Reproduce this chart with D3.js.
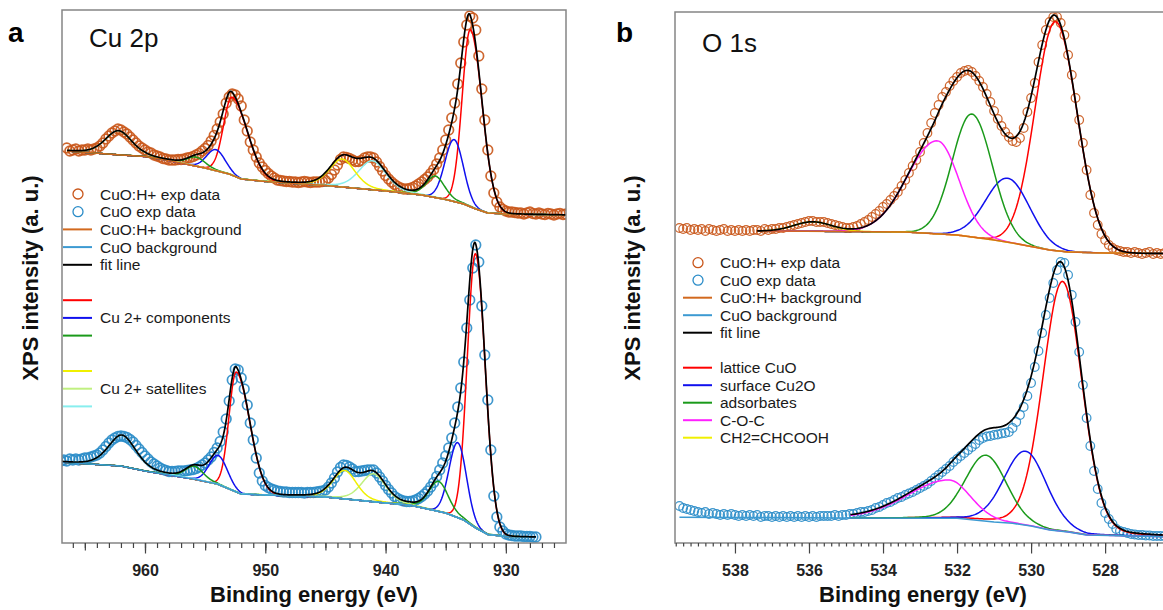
<!DOCTYPE html>
<html>
<head>
<meta charset="utf-8">
<script src="https://cdn.jsdelivr.net/npm/d3@7"></script>
<style>
  body { margin: 0; background: #fff; }
  svg { display: block; }
  text { font-family: "Liberation Sans", Arial, sans-serif; }
</style>
</head>
<body>
<div id="chart"></div>
<script>
// ---- Cu 2p exp data (binding energy grid: start, step 0.25 eV, going down) ----
const cu2pStep = 0.25;
const cuohCu2pStart = 966.5;
const cuohCu2p = [
  3950, 3920, 3930, 3940, 3920, 3930, 3930, 3940,
  3930, 3940, 3950, 3970, 4000, 4040, 4070, 4100,
  4120, 4140, 4130, 4110, 4090, 4060, 4030, 4000,
  3970, 3950, 3930, 3910, 3900, 3880, 3870, 3860,
  3845, 3840, 3830, 3830, 3830, 3835, 3835, 3840,
  3850, 3855, 3865, 3880, 3895, 3920, 3945, 3975,
  4020, 4075, 4140, 4210, 4290, 4400, 4460, 4490,
  4480, 4440, 4370, 4230, 4120, 4010, 3930, 3860,
  3800, 3760, 3725, 3695, 3670, 3650, 3630, 3625,
  3620, 3615, 3615, 3610, 3610, 3605, 3610, 3615,
  3610, 3605, 3610, 3610, 3610, 3615, 3625, 3650,
  3685, 3730, 3780, 3835, 3860, 3855, 3845, 3830,
  3815, 3815, 3825, 3850, 3860, 3860, 3850, 3810,
  3765, 3720, 3675, 3640, 3610, 3585, 3565, 3550,
  3540, 3540, 3545, 3555, 3570, 3590, 3610, 3635,
  3660, 3695, 3735, 3790, 3850, 3930, 4030, 4130,
  4250, 4400, 4590, 4800, 5010, 5180, 5270, 5250,
  5130, 4870, 4540, 4230, 3930, 3670, 3500, 3410,
  3360, 3335, 3320, 3310, 3310, 3305, 3300, 3300,
  3290, 3300, 3310, 3295, 3290, 3300, 3290, 3285,
  3295, 3290, 3280, 3290, 3295, 3285, 3290
];
const cuoCu2pStart = 967.0;
const cuoCu2p = [
  820, 830, 820, 840, 830, 840, 830, 840,
  850, 850, 860, 870, 880, 900, 930, 965,
  1000, 1030, 1050, 1065, 1070, 1065, 1055, 1035,
  1010, 975, 940, 905, 870, 840, 810, 790,
  770, 750, 735, 725, 715, 715, 715, 720,
  720, 720, 725, 730, 735, 745, 760, 780,
  800, 830, 860, 905, 950, 1015, 1110, 1240,
  1420, 1630, 1740, 1730, 1650, 1540, 1380, 1200,
  1030, 850, 700, 620, 575, 555, 540, 530,
  520, 515, 510, 510, 505, 505, 505, 505,
  505, 500, 505, 505, 505, 510, 515, 520,
  530, 560, 600, 650, 710, 755, 780, 775,
  760, 740, 715, 715, 720, 725, 730, 730,
  730, 700, 660, 620, 575, 535, 500, 465,
  445, 430, 420, 415, 415, 420, 430, 445,
  465, 490, 520, 560, 605, 665, 730, 800,
  870, 950, 1050, 1200, 1360, 1550, 1810, 2150,
  2430, 2750, 2980, 2810, 2370, 1880, 1430, 930,
  470, 260, 160, 120, 90, 80, 75, 70,
  70, 70, 65, 65, 65, 60, 60
];

// ---- O 1s exp data (start 539.5 eV, step 0.1 eV) ----
const o1sStart = 539.5, o1sStep = 0.1;
const cuohO1s = [
  3150, 3140, 3150, 3130, 3140, 3130, 3140, 3120, 3140, 3130,
  3120, 3130, 3140, 3120, 3130, 3120, 3130, 3120, 3130, 3120,
  3130, 3130, 3120, 3140, 3130, 3140, 3140, 3150, 3150, 3160,
  3170, 3180, 3190, 3200, 3210, 3220, 3220, 3210, 3210, 3210,
  3200, 3190, 3180, 3170, 3160, 3150, 3150, 3160, 3170, 3190,
  3210, 3230, 3260, 3290, 3320, 3360, 3390, 3430, 3470, 3510,
  3570, 3630, 3700, 3770, 3830, 3910, 4000, 4100, 4200, 4300,
  4380, 4460, 4510, 4570, 4620, 4660, 4700, 4720, 4730, 4710,
  4670, 4620, 4560, 4490, 4410, 4320, 4240, 4170, 4110, 4060,
  4020, 4010, 4050, 4150, 4310, 4450, 4600, 4810, 4980, 5130,
  5210, 5260, 5260, 5200, 5080, 4880, 4680, 4450, 4230, 4000,
  3730, 3480, 3300, 3180, 3090, 3030, 2980, 2950, 2930, 2920,
  2910, 2910, 2900, 2910, 2900, 2890, 2900, 2910, 2890, 2900,
  2890, 2900
];
const cuoO1s = [
  370, 350, 340, 330, 320, 310, 300, 310, 290, 300,
  290, 280, 290, 280, 290, 280, 270, 280, 270, 280,
  270, 280, 260, 270, 270, 260, 270, 260, 270, 260,
  270, 260, 270, 260, 270, 260, 270, 260, 270, 270,
  270, 270, 280, 270, 280, 280, 290, 290, 300, 310,
  310, 320, 330, 350, 360, 380, 400, 410, 430, 450,
  460, 480, 495, 510, 530, 550, 570, 590, 620, 650,
  680, 710, 740, 770, 810, 840, 870, 900, 930, 960,
  990, 1030, 1050, 1065, 1070, 1080, 1085, 1095, 1100, 1110,
  1150, 1210, 1280, 1360, 1470, 1600, 1760, 1920, 2100, 2280,
  2450, 2600, 2730, 2810, 2800, 2680, 2480, 2210, 1910, 1580,
  1250, 970, 720, 540, 400, 300, 240, 190, 140, 120,
  110, 100, 90, 85, 80, 80, 75, 75, 70, 70,
  70, 70
];

// ---- backgrounds, [binding energy, intensity] ----
const cuohCu2pBg = [[966.5, 3920], [962, 3880], [960, 3865], [958, 3825], [955, 3750], [953, 3690],
  [952, 3640], [950, 3615], [945, 3575], [940, 3520], [937, 3480], [935, 3435], [933.5, 3390],
  [932.5, 3340], [931.5, 3300], [930, 3290], [925, 3280]];
const cuoCu2pBg = [[967, 810], [966, 800], [962, 770], [960, 720], [956, 640], [954, 590], [952, 490],
  [950, 480], [945, 460], [940, 400], [938, 380], [935, 300], [933.5, 230], [932.5, 150],
  [931.5, 85], [930, 65], [927.5, 58]];
const cuohO1sBg = [[537.4, 3120], [535, 3115], [533.4, 3110], [532, 3080], [531, 3030], [530.5, 3000],
  [529.5, 2930], [529, 2910], [528, 2900], [526.4, 2895]];
const cuoO1sBg = [[539.5, 257], [535, 250], [532, 247], [531, 210], [530.5, 197], [530, 170],
  [529.5, 130], [529, 110], [528.5, 80], [526.4, 63]];

// ---- fitted components: centre (eV), height, FWHM high-BE side, FWHM low-BE side, Lorentz share ----
const cuohCu2pPeaks = [
  { id: "p1", e: 932.95, h: 1770, wL: 1.6, wR: 2.3, gl: 0 },
  { id: "p2", e: 934.3, h: 620, wL: 1.8, wR: 1.8, gl: 0 },
  { id: "p3", e: 935.85, h: 215, wL: 1.8, wR: 1.8, gl: 0.3 },
  { id: "s3", e: 941.1, h: 290, wL: 2.7, wR: 2.7, gl: 0.3 },
  { id: "s1", e: 943.6, h: 280, wL: 2.5, wR: 2.5, gl: 0.3 },
  { id: "p1", e: 952.75, h: 780, wL: 1.7, wR: 3.0, gl: 0 },
  { id: "p2", e: 954.1, h: 210, wL: 1.8, wR: 1.8, gl: 0 },
  { id: "p3", e: 955.75, h: 90, wL: 1.8, wR: 1.8, gl: 0.3 },
  { id: "s2", e: 962.2, h: 240, wL: 2.6, wR: 2.6, gl: 0.3 }
];
const cuoCu2pPeaks = [
  { id: "p1", e: 932.52, h: 2740, wL: 1.6, wR: 1.9, gl: 0 },
  { id: "p2", e: 934.0, h: 750, wL: 1.7, wR: 1.7, gl: 0 },
  { id: "p3", e: 935.6, h: 300, wL: 1.9, wR: 1.9, gl: 0.3 },
  { id: "s2", e: 941.0, h: 280, wL: 2.4, wR: 2.4, gl: 0.3 },
  { id: "s1", e: 943.4, h: 285, wL: 2.3, wR: 2.3, gl: 0.3 },
  { id: "p1", e: 952.4, h: 1200, wL: 1.45, wR: 2.6, gl: 0 },
  { id: "p2", e: 953.9, h: 290, wL: 1.8, wR: 1.8, gl: 0 },
  { id: "p3", e: 955.9, h: 130, wL: 1.8, wR: 1.8, gl: 0.3 },
  { id: "s3", e: 961.9, h: 310, wL: 2.7, wR: 2.7, gl: 0.3 }
];
const cuohO1sPeaks = [
  { id: "lattice", e: 529.34, h: 2290, wL: 1.3, wR: 1.38, gl: 0 },
  { id: "surface", e: 530.63, h: 640, wL: 1.4, wR: 1.4, gl: 0 },
  { id: "adsorbates", e: 531.6, h: 1230, wL: 1.24, wR: 1.3, gl: 0 },
  { id: "coc", e: 532.53, h: 930, wL: 1.9, wR: 1.35, gl: 0 },
  { id: "acrylic", e: 535.9, h: 95, wL: 1.2, wR: 1.2, gl: 0 }
];
const cuoO1sPeaks = [
  { id: "lattice", e: 529.15, h: 2500, wL: 1.25, wR: 1.25, gl: 0.1 },
  { id: "surface", e: 530.15, h: 740, wL: 1.36, wR: 1.36, gl: 0.1 },
  { id: "adsorbates", e: 531.22, h: 660, wL: 1.3, wR: 1.3, gl: 0.1 },
  { id: "coc", e: 532.23, h: 383, wL: 2.6, wR: 1.4, gl: 0.1 }
];

// tick labels
const cu2pTickLabels = [960, 950, 940, 930];
const o1sTickLabels = [538, 536, 534, 532, 530, 528];

// legend texts
const cuLegend = [
  ["dot", "cuoh", "CuO:H+ exp data"], ["dot", "cuo", "CuO exp data"],
  ["line", "bgCuoh", "CuO:H+ background"], ["line", "bgCuo", "CuO background"], ["line", "fit", "fit line"],
  null,
  ["line", "p1", ""], ["line", "p2", "Cu 2+ components"], ["line", "p3", ""],
  null,
  ["line", "s1", ""], ["line", "s2", "Cu 2+ satellites"], ["line", "s3", ""]
];
const oLegend = [
  ["dot", "cuoh", "CuO:H+ exp data"], ["dot", "cuo", "CuO exp data"],
  ["line", "bgCuoh", "CuO:H+ background"], ["line", "bgCuo", "CuO background"], ["line", "fit", "fit line"],
  null,
  ["line", "lattice", "lattice CuO"], ["line", "surface", "surface Cu2O"], ["line", "adsorbates", "adsorbates"],
  ["line", "coc", "C-O-C"], ["line", "acrylic", "CH2=CHCOOH"]
];

// colours
const colors = {
  cuoh: "#c9561a", cuo: "#2a8cc8", bgCuoh: "#d2691e", bgCuo: "#3c9ad2", fit: "#000",
  p1: "#ff0000", p2: "#1010ee", p3: "#1a9a1a", s1: "#f0f000", s2: "#c0f080", s3: "#88eeee",
  lattice: "#ff0000", surface: "#1010ee", adsorbates: "#1a9a1a", coc: "#ff20ff", acrylic: "#f0f000"
};

const W = 1163, H = 610;
const svg = d3.select("#chart").append("svg").attr("width", W).attr("height", H);

// pseudo-Voigt line shape with separate widths on both sides
function peakAt(E, p) {
  const d = E - p.e;
  const t = d / (d >= 0 ? p.wL : p.wR);
  return p.h * ((1 - p.gl) * Math.exp(-4 * Math.LN2 * t * t) + p.gl / (1 + 4 * t * t));
}

function drawPanel(p) {
  const x = d3.scaleLinear().domain(p.xDomain).range([p.left, p.right]);
  const y = d3.scaleLinear().domain([0, 5330]).range([543, 10]);
  const line = d3.line().x(d => x(d[0])).y(d => y(d[1]));

  svg.append("clipPath").attr("id", "clip-" + p.id).append("rect")
    .attr("x", p.left).attr("y", p.top).attr("width", p.right - p.left).attr("height", p.bottom - p.top);
  const plot = svg.append("g").attr("clip-path", `url(#clip-${p.id})`);

  // exp data
  p.spectra.forEach(s => {
    const pts = s.exp.map((v, i) => [s.start - i * s.step, v]);
    plot.append("g").selectAll("circle").data(pts).join("circle")
      .attr("cx", d => x(d[0])).attr("cy", d => y(d[1])).attr("r", p.r)
      .attr("fill", "none").attr("stroke", colors[s.key]).attr("stroke-width", p.dotStroke)
      .attr("stroke-opacity", 0.9);
  });

  // components, backgrounds, fit
  p.spectra.forEach(s => {
    const bg = d3.scaleLinear().domain(s.bg.map(d => d[0])).range(s.bg.map(d => d[1]));
    const grid = d3.range(s.fitTo, s.fitFrom + 1e-6, 0.04);
    s.peaks.forEach(pk => {
      plot.append("path")
        .attr("d", line(grid.map(E => [E, bg(E) + peakAt(E, pk)])))
        .attr("fill", "none").attr("stroke", colors[pk.id]).attr("stroke-width", 1.5);
    });
    plot.append("path").attr("d", line(s.bg))
      .attr("fill", "none").attr("stroke", colors[s.bgKey]).attr("stroke-width", 1.6);
    plot.append("path")
      .attr("d", line(grid.map(E => [E, bg(E) + d3.sum(s.peaks, pk => peakAt(E, pk))])))
      .attr("fill", "none").attr("stroke", colors.fit).attr("stroke-width", 1.7);
  });

  // frame
  svg.append("rect").attr("x", p.left).attr("y", p.top)
    .attr("width", p.right - p.left).attr("height", p.bottom - p.top)
    .attr("fill", "none").attr("stroke", "#858585").attr("stroke-width", 1.5);

  // ticks
  const axG = svg.append("g").attr("transform", `translate(0,${p.bottom})`);
  p.ticks.forEach(t => {
    const ax = d3.axisBottom(x).tickValues(t.values).tickSize(t.size).tickSizeOuter(0)
      .tickPadding(11).tickFormat(t.labels ? d3.format("d") : "");
    const gg = axG.append("g").call(ax);
    gg.select(".domain").remove();
    gg.selectAll("line").attr("stroke", "#444").attr("stroke-width", 1.2);
    gg.selectAll("text").attr("fill", "#222").style("font-size", "16px").style("font-weight", "bold");
  });

  // axis titles
  svg.append("text").attr("x", (p.left + p.right) / 2).attr("y", 602).attr("text-anchor", "middle")
    .style("font-size", "22px").style("font-weight", "bold").attr("fill", "#111")
    .text("Binding energy (eV)");
  svg.append("text").attr("transform", `translate(${p.yTitleX},278) rotate(-90)`)
    .attr("text-anchor", "middle").style("font-size", "22px").style("font-weight", "bold")
    .attr("fill", "#111").text("XPS intensity (a. u.)");

  // panel letter and core level
  svg.append("text").attr("x", p.letterX).attr("y", 42).style("font-size", "28px")
    .style("font-weight", "bold").text(p.letter);
  svg.append("text").attr("x", p.titleX).attr("y", p.titleY).style("font-size", "26px")
    .attr("fill", "#111").text(p.title);

  // legend
  const lg = svg.append("g");
  p.legend.forEach((row, i) => {
    if (!row) return;
    const ry = p.legendY + i * p.legendStep;
    if (row[0] === "dot") {
      lg.append("circle").attr("cx", p.legendX + 15).attr("cy", ry).attr("r", 5)
        .attr("fill", "none").attr("stroke", colors[row[1]]).attr("stroke-width", 1.3);
    } else {
      lg.append("line").attr("x1", p.legendX).attr("x2", p.legendX + 29).attr("y1", ry).attr("y2", ry)
        .attr("stroke", colors[row[1]]).attr("stroke-width", 2);
    }
    lg.append("text").attr("x", p.legendX + 37).attr("y", ry).attr("dy", "0.36em")
      .style("font-size", "15.5px").attr("fill", "#1a1a1a").text(row[2]);
  });
}

drawPanel({
  id: "a", left: 62, right: 566, top: 10, bottom: 543, xDomain: [966.9, 925.0], r: 4.8, dotStroke: 1.7,
  letter: "a", letterX: 8, title: "Cu 2p", titleX: 89, titleY: 47, yTitleX: 38,
  legend: cuLegend, legendX: 63, legendY: 194, legendStep: 17.7,
  ticks: [
    { values: d3.range(926, 967, 1), size: 5 },
    { values: d3.range(930, 967, 5), size: 7.5 },
    { values: cu2pTickLabels, size: 10.5, labels: true }
  ],
  spectra: [
    { key: "cuoh", bgKey: "bgCuoh", exp: cuohCu2p, start: cuohCu2pStart, step: cu2pStep,
      bg: cuohCu2pBg, peaks: cuohCu2pPeaks, fitFrom: 966.5, fitTo: 925.0 },
    { key: "cuo", bgKey: "bgCuo", exp: cuoCu2p, start: cuoCu2pStart, step: cu2pStep,
      bg: cuoCu2pBg, peaks: cuoCu2pPeaks, fitFrom: 967.0, fitTo: 927.5 }
  ]
});

drawPanel({
  id: "b", left: 675, right: 1171, top: 12, bottom: 543, xDomain: [539.62, 526.22], r: 4.3, dotStroke: 1.25,
  letter: "b", letterX: 616, title: "O 1s", titleX: 702, titleY: 52, yTitleX: 640,
  legend: oLegend, legendX: 683, legendY: 262.7, legendStep: 17.5,
  ticks: [
    { values: d3.range(2632, 2699).map(v => v / 5), size: 3.5 },
    { values: o1sTickLabels, size: 10.5, labels: true }
  ],
  spectra: [
    { key: "cuoh", bgKey: "bgCuoh", exp: cuohO1s, start: o1sStart, step: o1sStep,
      bg: cuohO1sBg, peaks: cuohO1sPeaks, fitFrom: 537.4, fitTo: 526.4 },
    { key: "cuo", bgKey: "bgCuo", exp: cuoO1s, start: o1sStart, step: o1sStep,
      bg: cuoO1sBg, peaks: cuoO1sPeaks, fitFrom: 534.9, fitTo: 526.4 }
  ]
});
</script>
</body>
</html>
